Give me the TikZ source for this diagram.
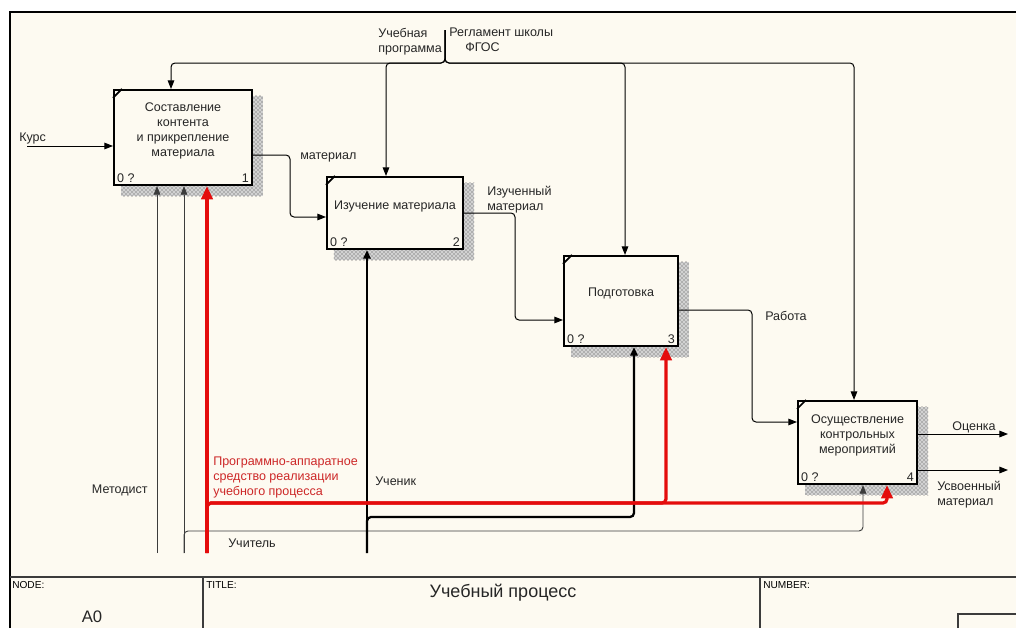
\documentclass[tikz,border=0pt]{standalone}
\usepackage{fontspec}
\setmainfont{Liberation Sans}
\usetikzlibrary{arrows.meta,calc,patterns,backgrounds}

\definecolor{paper}{RGB}{253,250,241}
\definecolor{mechred}{RGB}{228,12,12}
\definecolor{labred}{RGB}{205,40,40}
\definecolor{inkgray}{RGB}{60,60,60}

\tikzset{
  funcbox/.style 2 args={draw,line width=1.6pt,fill=paper,inner sep=0pt,
    minimum width=#1*0.75pt,minimum height=#2*0.75pt},
  boxtext/.style={font=\fontsize{9.4}{11.25}\selectfont,align=center,inner sep=0pt,text=black!85},
  numtext/.style={font=\fontsize{9.4}{11}\selectfont,inner sep=0pt,text=black!85},
  lab/.style={font=\fontsize{9.4}{11.25}\selectfont,align=left,inner sep=0pt,text=black!85},
  redlab/.style={lab,text=labred},
  foot/.style={font=\fontsize{7.6}{9}\selectfont,inner sep=0pt,anchor=north west},
  arr/.style={line width=0.75pt,-{Triangle[length=6.5pt,width=5pt]}},
  mecharr/.style={line width=0.7pt,draw=inkgray,-{Triangle[length=6.5pt,width=5pt]}},
  pupilarr/.style={line width=1.7pt,-{Triangle[length=6.5pt,width=5.5pt]}},
  redarr/.style={line width=2.4pt,draw=mechred,-{Triangle[length=10pt,width=8.5pt]}},
  rc/.style={rounded corners=3pt},
  hatch/.style={pattern=crosshatch dots,pattern color=black!75}
}

\newcommand{\boxshadow}[1]{%
  \fill[gray!35] ($(#1.north west)+(8,7)$) rectangle ($(#1.south east)+(10,10)$);
  \fill[hatch] ($(#1.north west)+(8,7)$) rectangle ($(#1.south east)+(10,10)$);}
\newcommand{\boxtick}[1]{%
  \draw[line width=1.2pt] ($(#1.north west)+(0,9)$) -- ($(#1.north west)+(9,0)$);}

\begin{document}
\begin{tikzpicture}[x=0.75pt,y=-0.75pt]
\useasboundingbox (0,0) rectangle (1016,628);

% sheet
\begin{scope}[on background layer]
  \fill[white] (0,0) rectangle (1016,628);
  \fill[paper] (10,12) rectangle (1016,628);
\end{scope}
\draw[line width=1.1pt] (10,628) -- (10,12) -- (1016,12);

% activity boxes
\node[funcbox={138}{95}] (b1) at (183,137.5) {};
\node[funcbox={136}{72}] (b2) at (395,213) {};
\node[funcbox={114}{90}] (b3) at (621,301) {};
\node[funcbox={119}{83}] (b4) at (857.5,442.5) {};

\begin{scope}[on background layer]
  \boxshadow{b1}\boxshadow{b2}\boxshadow{b3}\boxshadow{b4}
\end{scope}
\boxtick{b1}\boxtick{b2}\boxtick{b3}\boxtick{b4}

\node[boxtext] at ($(b1.center)+(0,-7)$) {Составление\\контента\\и прикрепление\\материала};
\node[boxtext] at ($(b2.center)+(0,-7)$) {Изучение материала};
\node[boxtext] at ($(b3.center)+(0,-8)$) {Подготовка};
\node[boxtext] at ($(b4.center)+(0,-7.5)$) {Осуществление\\контрольных\\мероприятий};

\foreach \b/\n in {b1/1,b2/2,b3/3,b4/4}{
  \node[numtext,anchor=south west] at ($(\b.south west)+(4,-3)$) {0 ?};
  \node[numtext,anchor=south east] at ($(\b.south east)+(-4,-3)$) {\n};
}

% controls
\coordinate (tun) at (445,30);
\coordinate (ctop) at (445,63);
\coordinate (c1) at (171,63);
\coordinate (c2) at (386,63);
\coordinate (c3) at (625,63);
\coordinate (c4) at (854,63);
\draw[arr,rc] (tun) -- (ctop) -- (c1) -- (c1 |- b1.north);
\draw[arr,rc] (tun) -- (ctop) -- (c2) -- (c2 |- b2.north);
\draw[arr,rc] (tun) -- (ctop) -- (c3) -- (c3 |- b3.north);
\draw[arr,rc] (tun) -- (ctop) -- (c4) -- (c4 |- b4.north);
\node[lab,anchor=north east,align=left] at (442,28) {Учебная\\программа};
\node[lab,anchor=north west,align=left] at (449,28) {Регламент школы\\\hspace*{12pt}ФГОС};

% inputs and outputs
\coordinate (kurs) at (27,146);
\draw[arr] (kurs) -- (kurs -| b1.west);
\node[lab,anchor=west] at (19,138) {Курс};

\coordinate (m1) at (290,155);
\coordinate (m2) at (290,217);
\draw[arr,rc] (m1 -| b1.east) -- (m1) -- (m2) -- (m2 -| b2.west);
\node[lab,anchor=west] at (300,157) {материал};

\coordinate (i1) at (515,213);
\coordinate (i2) at (515,320);
\draw[arr,rc] (i1 -| b2.east) -- (i1) -- (i2) -- (i2 -| b3.west);
\node[lab,anchor=north west] at (487,186) {Изученный\\материал};

\coordinate (w1) at (752,310);
\coordinate (w2) at (752,422);
\draw[arr,rc] (w1 -| b3.east) -- (w1) -- (w2) -- (w2 -| b4.west);
\node[lab,anchor=west] at (765,316) {Работа};

\coordinate (o1) at (1008,434);
\coordinate (o2) at (1008,470);
\draw[arr] (o1 -| b4.east) -- (o1);
\draw[arr] (o2 -| b4.east) -- (o2);
\node[lab,anchor=west] at (952,427) {Оценка};
\node[lab,anchor=north west] at (937,481) {Усвоенный\\материал};

% mechanisms
\coordinate (metod) at (157,553);
\draw[mecharr] (metod) -- (metod |- b1.south);
\node[lab,anchor=east] at (148,490) {Методист};

\coordinate (uchit) at (184,553);
\coordinate (uj) at (184,531);
\coordinate (u4) at (863,531);
\draw[mecharr] (uchit) -- (uchit |- b1.south);
\draw[mecharr,rc] (uchit) -- (uj) -- (u4) -- (u4 |- b4.south);
\node[lab,anchor=west] at (228,543) {Учитель};

\coordinate (uchen) at (367,553);
\coordinate (k1) at (367,517);
\coordinate (k3) at (634,517);
\draw[pupilarr] (uchen) -- (uchen |- b2.south);
\draw[pupilarr,rc] (uchen) -- (k1) -- (k3) -- (k3 |- b3.south);
\node[lab,anchor=west] at (375,481) {Ученик};

\coordinate (red) at (207,553);
\coordinate (rj) at (207,503);
\coordinate (r3) at (666,503);
\coordinate (r4) at (887,503);
\draw[redarr] (red) -- (red |- b1.south);
\draw[redarr,rc] (red) -- (rj) -- (r3) -- (r3 |- b3.south);
\draw[redarr,rc] (red) -- (rj) -- (r4) -- (r4 |- b4.south);
\node[redlab,anchor=west] at (213,477) {Программно-аппаратное\\средство реализации\\учебного процесса};

% title block
\draw[line width=0.9pt,draw=inkgray] (10,577) -- (1016,577);
\draw[line width=0.8pt,draw=inkgray] (203,577) -- (203,628);
\draw[line width=0.8pt,draw=inkgray] (760,577) -- (760,628);
\draw[line width=0.8pt,draw=inkgray] (958,628) -- (958,614) -- (1016,614);
\node[foot] at (12,581) {NODE:};
\node[foot] at (206,581) {TITLE:};
\node[foot] at (763,581) {NUMBER:};
\node[font=\fontsize{13.5}{16}\selectfont,inner sep=0pt,text=black!85] at (503,593) {Учебный процесс};
\node[font=\fontsize{12.5}{15}\selectfont,inner sep=0pt,text=black!85] at (92,617) {A0};
\end{tikzpicture}
\end{document}
